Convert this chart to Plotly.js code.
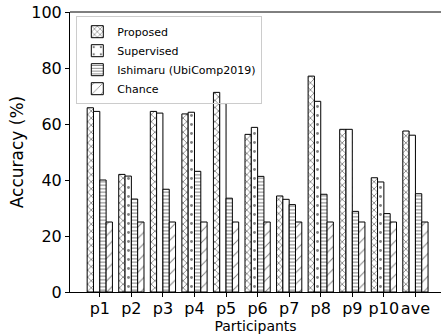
<!DOCTYPE html>
<html>
<head>
<meta charset="utf-8">
<script src="https://cdn.plot.ly/plotly-3.0.1.min.js"></script>
<style>html,body{margin:0;padding:0;background:#fff;}#chart{width:441px;height:336px;}</style>
</head>
<body>
<div id="chart"></div>
<script>
const categories = ["p1","p2","p3","p4","p5","p6","p7","p8","p9","p10","ave"];
const proposed   = [65.8, 42.0, 64.5, 63.6, 71.3, 56.3, 34.3, 77.1, 58.1, 40.8, 57.5];
const supervised = [64.5, 41.4, 63.9, 64.2, 67.3, 58.8, 33.1, 68.1, 58.1, 39.3, 56.0];
const ishimaru   = [40.0, 33.2, 36.7, 43.1, 33.5, 41.3, 31.2, 34.9, 28.8, 28.0, 35.1];
const chance     = [25, 25, 25, 25, 25, 25, 25, 25, 25, 25, 25];
const seriesNames = ["Proposed", "Supervised", "Ishimaru (UbiComp2019)", "Chance"];
const yTicks = [0, 20, 40, 60, 80, 100];

const xpos = categories.map((c, i) => i);
const patterns = [
  {shape: "x", size: 5, solidity: 0.3},
  {shape: ".", size: 9, solidity: 0.08},
  {shape: "-", size: 3.5, solidity: 0.3},
  {shape: "/", size: 8, solidity: 0.12}
];
const data = [proposed, supervised, ishimaru, chance].map((vals, k) => ({
  type: "bar",
  x: xpos,
  y: vals,
  name: seriesNames[k],
  marker: {
    color: "#ffffff",
    line: {color: "#000000", width: 1},
    pattern: Object.assign({fgcolor: "#000000", bgcolor: "#ffffff", fillmode: "overlay"}, patterns[k])
  }
}));

const layout = {
  width: 441, height: 336,
  margin: {l: 70, r: 0, t: 12, b: 44, pad: 0},
  paper_bgcolor: "#ffffff", plot_bgcolor: "#ffffff",
  font: {family: "DejaVu Sans", color: "#000000"},
  barmode: "group", bargap: 0.2, bargroupgap: 0,
  showlegend: true,
  legend: {
    x: 0.017, y: 0.985, xanchor: "left", yanchor: "top",
    bgcolor: "rgba(255,255,255,0)", bordercolor: "#cccccc", borderwidth: 1,
    font: {size: 11, family: "DejaVu Sans"},
    tracegroupgap: 0, itemwidth: 30
  },
  xaxis: {
    range: [-0.944, 10.81],
    tickmode: "array", tickvals: xpos, ticktext: categories,
    tickangle: 0,
    ticks: "outside", ticklen: 4, tickwidth: 1, tickcolor: "#000",
    ticklabelstandoff: -2,
    showline: true, linecolor: "#000", linewidth: 1, mirror: false,
    showgrid: false, zeroline: false,
    tickfont: {size: 16},
    title: {text: "Participants", font: {size: 14}, standoff: 2}
  },
  yaxis: {
    range: [0, 100],
    tickmode: "array", tickvals: yTicks,
    ticks: "outside", ticklen: 4, tickwidth: 1, tickcolor: "#000",
    showline: true, linecolor: "#000", linewidth: 1,
    showgrid: false, zeroline: false,
    tickfont: {size: 16},
    title: {text: "Accuracy (%)", font: {size: 17}, standoff: 3}
  },
  shapes: [
    {type: "line", xref: "paper", yref: "paper", x0: 0, x1: 1, y0: 1, y1: 1, line: {color: "#000", width: 1}}
  ]
};
Plotly.newPlot("chart", data, layout, {displayModeBar: false, staticPlot: true});
</script>
</body>
</html>
